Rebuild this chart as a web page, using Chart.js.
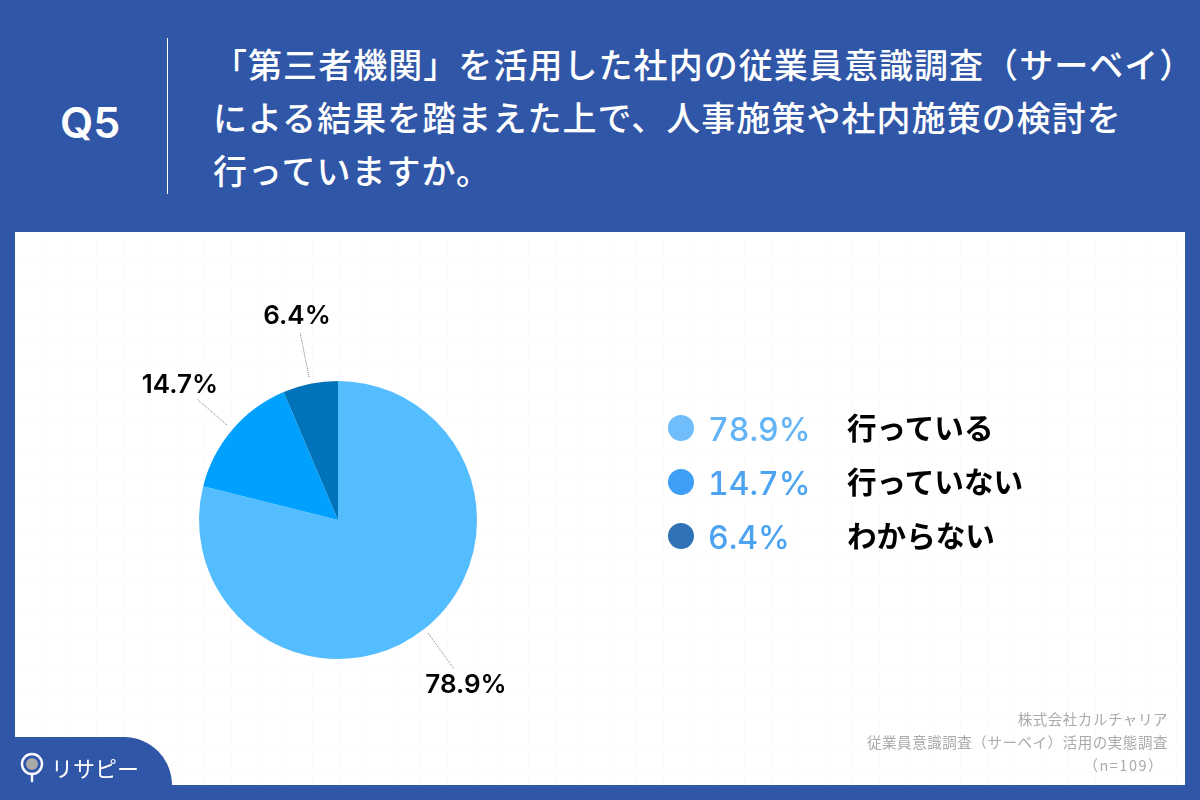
<!DOCTYPE html>
<html lang="ja">
<head>
<meta charset="utf-8">
<title>Q5</title>
<script src="https://cdn.jsdelivr.net/npm/chart.js@4"></script>
<style>
  html, body { margin: 0; padding: 0; }
  body { width: 1200px; height: 800px; background: #3056a8; overflow: hidden; position: relative;
    font-family: "Noto Sans CJK JP", sans-serif; }
  .abs { position: absolute; white-space: nowrap; line-height: 1; }
  #panel { position: absolute; left: 15px; top: 232px; width: 1170px; height: 553px; background-color: #fff;
    background-image: linear-gradient(#fbfbfb 1px, transparent 1px), linear-gradient(90deg, #fbfbfb 1px, transparent 1px);
    background-size: 27px 27px; }
  #tab { position: absolute; left: 0; top: 737px; width: 172px; height: 63px; background: #3056a8; border-top-right-radius: 48px; }
  #rule { position: absolute; left: 167px; top: 38px; width: 1px; height: 156px; background: #fff; }
  #q { left: 60px; top: 96px; font: 600 43px Inter, sans-serif; color: #fff; }
  .title { color: #fff; font-size: 34px; font-weight: 500; letter-spacing: 1.05px; left: 213px; }
  canvas { position: absolute; left: 0; top: 0; }
  .dot { position: absolute; left: 668px; width: 26px; height: 26px; border-radius: 50%; }
  .pct { left: 708px; font: 500 32px Inter, sans-serif; font-feature-settings: "tnum"; }
  .name { left: 847px; font-size: 29.6px; font-weight: 700; color: #000; }
  .foot { right: 32px; font-size: 14.5px; color: #aaa; letter-spacing: 0.55px; }
  #logo { left: 51px; top: 756px; font-size: 22px; color: #fff; font-weight: 400; }
</style>
</head>
<body>
<div id="panel"></div>
<div id="tab"></div>
<div id="rule"></div>
<div id="q" class="abs">Q5</div>
<div class="abs title" style="top:47px">「第三者機関」を活用した社内の従業員意識調査（サーベイ）</div>
<div class="abs title" style="top:100px">による結果を踏まえた上で、人事施策や社内施策の検討を</div>
<div class="abs title" style="top:153px">行っていますか。</div>
<canvas id="pie" width="1200" height="800" style="width:1200px;height:800px"></canvas>
<div id="legend"></div>
<div class="abs foot" style="top:712px">株式会社カルチャリア</div>
<div class="abs foot" style="top:735px">従業員意識調査（サーベイ）活用の実態調査</div>
<div class="abs foot" style="top:758px;right:36px;letter-spacing:1.5px">（n=109）</div>
<svg style="position:absolute;left:18px;top:750px" width="30" height="34" viewBox="0 0 30 34">
  <circle cx="14" cy="14" r="10" fill="none" stroke="#fff" stroke-width="2.4"/>
  <circle cx="14" cy="14" r="6" fill="#a9a9a9"/>
  <line x1="14" y1="24" x2="14" y2="31" stroke="#fff" stroke-width="2.4" stroke-linecap="round"/>
</svg>
<div id="logo" class="abs">リサピー</div>

<script>
const categories = ['行っている', '行っていない', 'わからない']
const shares = [78.9, 14.7, 6.4]
const sliceColors = ['#54bdff', '#00a0ff', '#0073bb']
const legendDots = ['#6fbdfb', '#3f9ef5', '#2f72b5']
const legendText = ['#62b4f7', '#4ba3f2', '#4ba3f2']

const labelSpots = [
  { x: 466, y: 685, from: [428, 633], to: [454, 669] },
  { x: 180, y: 385, from: [227, 425], to: [197, 399] },
  { x: 297, y: 316, from: [309, 377], to: [300, 332] }
]

const legendBox = document.getElementById('legend')
const legendTops = [428, 482, 536]
categories.forEach((name, i) => {
  const y = legendTops[i]
  legendBox.insertAdjacentHTML('beforeend',
    `<div class="dot" style="top:${y - 13}px;background:${legendDots[i]}"></div>
     <div class="abs pct" style="top:${y - 18}px;color:${legendText[i]}">${shares[i].toFixed(1)}%</div>
     <div class="abs name" style="top:${y - 16}px">${name}</div>`)
})

// percent labels with their dotted leaders
const pieLabels = {
  id: 'pieLabels',
  afterDatasetsDraw(chart) {
    const ctx = chart.ctx
    ctx.save()
    labelSpots.forEach((spot, i) => {
      ctx.beginPath()
      ctx.setLineDash([1, 1])
      ctx.strokeStyle = '#808080'
      ctx.lineWidth = 1
      ctx.moveTo(spot.from[0], spot.from[1])
      ctx.lineTo(spot.to[0], spot.to[1])
      ctx.stroke()
      ctx.setLineDash([])
      ctx.fillStyle = '#000'
      ctx.font = '600 26px Inter, sans-serif'
      ctx.textAlign = 'center'
      ctx.textBaseline = 'middle'
      ctx.fillText(shares[i].toFixed(1) + '%', spot.x, spot.y)
    })
    ctx.restore()
  }
}

new Chart(document.getElementById('pie'), {
  type: 'pie',
  data: {
    labels: categories,
    datasets: [{
      data: shares,
      backgroundColor: sliceColors,
      borderWidth: 0
    }]
  },
  options: {
    responsive: false,
    animation: false,
    layout: { padding: { left: 199, right: 723, top: 381, bottom: 141 } },
    plugins: {
      legend: { display: false },
      tooltip: { enabled: false }
    }
  },
  plugins: [pieLabels]
})
</script>
</body>
</html>
